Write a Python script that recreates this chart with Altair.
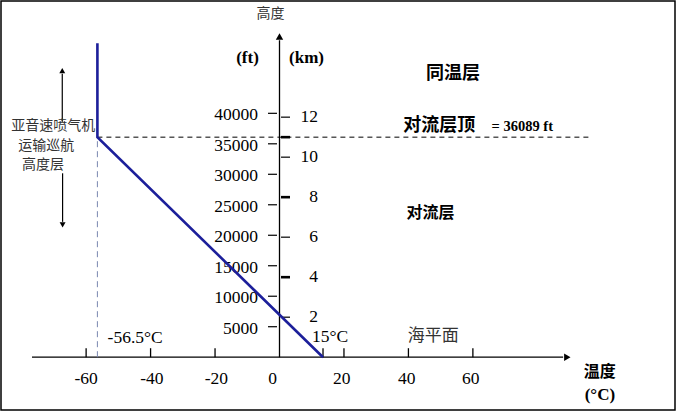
import altair as alt
import pandas as pd

# ---------------- data ----------------
# temperature profile (°C vs altitude ft)
profile_temp = [13.5, -56.5, -56.5]
profile_alt = [0, 36089, 51500]
tropopause_ft = 36089
tropopause_temp = -56.5

# x axis ticks / labels
x_tick_vals = [-60, -40, -20, 13.5, 20, 40, 60]
x_label_text = ["-60", "-40", "-20", "0", "20", "40", "60"]
x_label_pos = [-60, -39.6, -19.6, -2.1, 19.3, 39.5, 59.3]

# altitude ticks
ft_ticks = [5000, 10000, 15000, 20000, 25000, 30000, 35000, 40000]
km_ticks = [2, 4, 6, 8, 10, 12]
km_bold = [4, 8, 11]
FT_PER_KM = 3280.84

# axis extents
x_axis_range = [-76.8, 88.0]
x_arrow = 89.3
y_axis_top = 52000
y_arrow = 52600

# annotation arrows (temp, alt)
up_arrow = [-67.4, 38626, 46500, 47000]
down_arrow = [-67.3, 30163, 22200, 21700]

# text annotations: (text, temp, alt)
cjk_bold = [("同温层", 53.8, 46449, 18, "center"),
            ("对流层顶", 38.4, 37920, 18, "left"),
            ("对流层", 46.85, 23651, 16, "center"),
            ("温度", 99.4, -2378, 16, "center")]
cjk_plain = [("高度", -2.8, 56240, 14),
             ("海平面", 47.7, 3477, 17),
             ("亚音速喷气机", -70.2, 37900, 14),
             ("运输巡航", -72.4, 34700, 14),
             ("高度层", -73.4, 31450, 14)]
serif_bold = [("(ft)", -9.93, 49073, 17),
              ("(km)", 8.38, 49073, 17),
              ("= 36089 ft", 65.8, 37750, 14.5),
              ("(°C)", 99.4, -6200, 17)]
serif_plain = [("15°C", 15.67, 3313, 17.5),
               ("-56.5°C", -44.8, 3149, 17.5)]

# ---------------- scales ----------------
XS = alt.Scale(domain=[-86.41, 122.71], nice=False, zero=False)
YS = alt.Scale(domain=[-8660, 58422], nice=False, zero=False)

def X(f="t"):
    return alt.X(f"{f}:Q", scale=XS, axis=None)

def Y(f="a"):
    return alt.Y(f"{f}:Q", scale=YS, axis=None)

SERIF = "Liberation Serif"
CJK = "Noto Sans CJK SC"

layers = []

# x axis line
df = pd.DataFrame({"t": [x_axis_range[0]], "t2": [x_axis_range[1]], "a": [0]})
layers.append(alt.Chart(df).mark_rule(color="black", strokeWidth=1.3).encode(
    x=X(), x2="t2:Q", y=Y()))
df = pd.DataFrame({"t": [x_arrow], "a": [0]})
layers.append(alt.Chart(df).mark_point(shape="triangle-right", filled=True, size=55,
                                       color="black", opacity=1).encode(x=X(), y=Y()))

# y axis line
df = pd.DataFrame({"t": [0], "a": [0], "a2": [y_axis_top]})
layers.append(alt.Chart(df).mark_rule(color="black", strokeWidth=1.3).encode(
    x=X(), y=Y(), y2="a2:Q"))
df = pd.DataFrame({"t": [0], "a": [y_arrow]})
layers.append(alt.Chart(df).mark_point(shape="triangle-up", filled=True, size=55,
                                       color="black", opacity=1).encode(x=X(), y=Y()))

# x ticks
df = pd.DataFrame({"t": x_tick_vals, "a": [0] * len(x_tick_vals),
                   "a2": [1476] * len(x_tick_vals)})
layers.append(alt.Chart(df).mark_rule(color="black", strokeWidth=1.3).encode(
    x=X(), y=Y(), y2="a2:Q"))
df = pd.DataFrame({"t": x_label_pos, "a": [-3575] * len(x_label_pos), "txt": x_label_text})
layers.append(alt.Chart(df).mark_text(font=SERIF, fontSize=17.5, color="black",
                                      baseline="middle", align="center").encode(
    x=X(), y=Y(), text="txt:N"))

# ft ticks and labels
df = pd.DataFrame({"t": [-3.57] * len(ft_ticks), "t2": [-0.78] * len(ft_ticks), "a": ft_ticks,
                   "txt": [str(v) for v in ft_ticks]})
layers.append(alt.Chart(df).mark_rule(color="black", strokeWidth=1.2).encode(
    x=X(), x2="t2:Q", y=Y()))
df2 = df.assign(t=-6.67)
layers.append(alt.Chart(df2).mark_text(font=SERIF, fontSize=17.5, color="black",
                                       baseline="middle", align="right", dy=2).encode(
    x=X(), y=Y(), text="txt:N"))

# km ticks and labels
km_all = sorted(set(km_ticks + km_bold))
df = pd.DataFrame({"t": [0.47] * len(km_all), "t2": [3.26] * len(km_all),
                   "a": [k * FT_PER_KM for k in km_all],
                   "w": ["b" if k in km_bold else "n" for k in km_all]})
layers.append(alt.Chart(df).mark_rule(color="black").encode(
    x=X(), x2="t2:Q", y=Y(),
    strokeWidth=alt.StrokeWidth("w:N", scale=alt.Scale(domain=["n", "b"], range=[1.2, 2.6]),
                                legend=None)))
df = pd.DataFrame({"t": [11.95] * len(km_ticks), "a": [k * FT_PER_KM for k in km_ticks],
                   "txt": [str(k) for k in km_ticks]})
layers.append(alt.Chart(df).mark_text(font=SERIF, fontSize=17.5, color="black",
                                      baseline="middle", align="right").encode(
    x=X(), y=Y(), text="txt:N"))

# tropopause dashed line
df = pd.DataFrame({"t": [tropopause_temp], "t2": [96.9], "a": [tropopause_ft]})
layers.append(alt.Chart(df).mark_rule(color="black", strokeWidth=1, strokeDash=[5, 4]).encode(
    x=X(), x2="t2:Q", y=Y()))
df = pd.DataFrame({"t": [tropopause_temp], "a": [0], "a2": [tropopause_ft]})
layers.append(alt.Chart(df).mark_rule(color="#7a88b0", strokeWidth=1, strokeDash=[6, 4]).encode(
    x=X(), y=Y(), y2="a2:Q"))

# temperature profile
df = pd.DataFrame({"t": profile_temp, "a": profile_alt, "i": list(range(len(profile_temp)))})
layers.append(alt.Chart(df).mark_line(color="#1c1f9a", strokeWidth=2.6).encode(
    x=X(), y=Y(), order="i:Q"))

# left annotation arrows
df = pd.DataFrame({"t": [up_arrow[0], down_arrow[0]], "a": [up_arrow[1], down_arrow[1]],
                   "a2": [up_arrow[2], down_arrow[2]]})
layers.append(alt.Chart(df).mark_rule(color="black", strokeWidth=1.2).encode(
    x=X(), y=Y(), y2="a2:Q"))
df = pd.DataFrame({"t": [up_arrow[0]], "a": [up_arrow[3]]})
layers.append(alt.Chart(df).mark_point(shape="triangle-up", filled=True, size=35,
                                       color="black", opacity=1).encode(x=X(), y=Y()))
df = pd.DataFrame({"t": [down_arrow[0]], "a": [down_arrow[3]]})
layers.append(alt.Chart(df).mark_point(shape="triangle-down", filled=True, size=35,
                                       color="black", opacity=1).encode(x=X(), y=Y()))

# texts
for txt, t, a, sz, al in cjk_bold:
    df = pd.DataFrame({"t": [t], "a": [a], "txt": [txt]})
    layers.append(alt.Chart(df).mark_text(font=CJK, fontSize=sz, fontWeight="bold",
                                          color="black", baseline="middle", align=al).encode(
        x=X(), y=Y(), text="txt:N"))
for txt, t, a, sz in cjk_plain:
    df = pd.DataFrame({"t": [t], "a": [a], "txt": [txt]})
    layers.append(alt.Chart(df).mark_text(font=CJK, fontSize=sz, color="#333333",
                                          baseline="middle", align="center").encode(
        x=X(), y=Y(), text="txt:N"))
for txt, t, a, sz in serif_bold:
    df = pd.DataFrame({"t": [t], "a": [a], "txt": [txt]})
    al = "left" if txt.startswith("=") else "center"
    layers.append(alt.Chart(df).mark_text(font=SERIF, fontSize=sz, fontWeight="bold",
                                          color="black", baseline="middle", align=al).encode(
        x=X(), y=Y(), text="txt:N"))
for txt, t, a, sz in serif_plain:
    df = pd.DataFrame({"t": [t], "a": [a], "txt": [txt]})
    layers.append(alt.Chart(df).mark_text(font=SERIF, fontSize=sz, color="black",
                                          baseline="middle", align="center").encode(
        x=X(), y=Y(), text="txt:N"))

chart = alt.layer(*layers).properties(
    width=674, height=409, padding=1,
    autosize=alt.AutoSizeParams(type="none"),
    background="white",
).configure_view(stroke="black", strokeWidth=1.5)

chart.save("out.html", embed_options={"renderer": "svg", "actions": False})
